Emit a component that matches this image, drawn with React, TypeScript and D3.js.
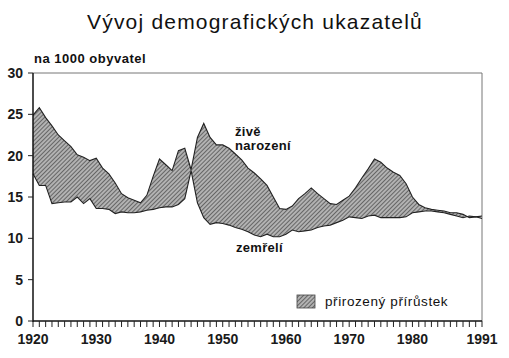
import { useEffect, useRef } from "react";
import * as d3 from "d3";

// rok, živě narození a zemřelí na 1000 obyvatel
const years: number[] = d3.range(1920, 1992);

const births: number[] = [
  24.9, 25.8, 24.6, 23.6, 22.5, 21.8, 21.1, 20.1, 19.8, 19.4,
  19.7, 18.5, 17.8, 16.7, 15.4, 14.9, 14.6, 14.3, 15.2, 17.5,
  19.6, 18.9, 18.2, 20.6, 20.9, 18.3, 22.2, 23.9, 22.2, 21.3,
  21.3, 20.9, 20.2, 19.5, 18.5, 17.9, 17.2, 16.4, 15.0, 13.6,
  13.5, 13.9, 14.8, 15.4, 16.1, 15.4, 14.8, 14.2, 14.1, 14.6,
  15.1, 16.1, 17.3, 18.4, 19.6, 19.2, 18.5, 18.0, 17.6, 16.6,
  15.0, 14.1, 13.7, 13.5, 13.4, 13.3, 13.1, 13.1, 12.9, 12.5,
  12.6, 12.7,
];

const deaths: number[] = [
  17.8, 16.4, 16.4, 14.2, 14.3, 14.4, 14.4, 15.0, 14.2, 14.8,
  13.6, 13.6, 13.5, 13.0, 13.2, 13.1, 13.1, 13.2, 13.4, 13.5,
  13.7, 13.8, 13.8, 14.1, 14.8, 18.2, 14.3, 12.5, 11.7, 11.9,
  11.8, 11.6, 11.3, 11.1, 10.8, 10.4, 10.2, 10.5, 10.2, 10.2,
  10.5, 11.0, 10.8, 10.9, 11.0, 11.3, 11.5, 11.6, 11.9, 12.2,
  12.6, 12.5, 12.4, 12.7, 12.8, 12.5, 12.5, 12.5, 12.5, 12.6,
  13.1, 13.2, 13.3, 13.3, 13.2, 13.1, 12.9, 12.7, 12.5, 12.7,
  12.6, 12.4,
];

const yTicks: number[] = [0, 5, 10, 15, 20, 25, 30];
const xLabels: number[] = [1920, 1930, 1940, 1950, 1960, 1970, 1980, 1991];

const title = "Vývoj demografických ukazatelů";
const unitLabel = "na 1000 obyvatel";
const birthLabel = ["živě", "narození"];
const deathLabel = "zemřelí";
const legendLabel = "přirozený přírůstek";

export default function App() {
  const ref = useRef<SVGSVGElement | null>(null);

  useEffect(() => {
    document.body.style.margin = "0";
    const svg = d3.select(ref.current);
    svg.selectAll("*").remove();

    const font = "'Liberation Sans', Arial, sans-serif";
    const left = 33, right = 482, top = 73, bottom = 321;

    const x = d3.scaleLinear().domain([1920, 1991]).range([left, right]);
    const y = d3.scaleLinear().domain([0, 30]).range([bottom, top]);

    const rows = years.map((yr, i) => ({ yr, b: births[i], d: deaths[i] }));

    // hatch pattern
    const defs = svg.append("defs");
    const pat = defs.append("pattern")
      .attr("id", "hatch")
      .attr("patternUnits", "userSpaceOnUse")
      .attr("width", 3)
      .attr("height", 3)
      .attr("patternTransform", "rotate(-45)");
    pat.append("rect").attr("width", 3).attr("height", 3).attr("fill", "#b2b2b2");
    pat.append("line")
      .attr("x1", 0).attr("y1", 0.5).attr("x2", 3).attr("y2", 0.5)
      .attr("stroke", "#666").attr("stroke-width", 1);

    // title
    svg.append("text")
      .attr("x", 255)
      .attr("y", 29)
      .attr("text-anchor", "middle")
      .style("font-family", font)
      .style("font-size", "21px")
      .style("letter-spacing", "1.2px")
      .style("fill", "#111")
      .text(title);

    svg.append("text")
      .attr("x", 34)
      .attr("y", 63)
      .style("font-family", font)
      .style("font-size", "13px")
      .style("font-weight", "bold")
      .style("letter-spacing", "0.5px")
      .style("fill", "#111")
      .text(unitLabel);

    // frame
    svg.append("path")
      .attr("d", `M${left},${top}H${right}V${bottom}`)
      .attr("fill", "none")
      .attr("stroke", "#777")
      .attr("stroke-width", 1);

    // area between curves
    const area = d3.area<{ yr: number; b: number; d: number }>()
      .x(d => x(d.yr))
      .y0(d => y(d.d))
      .y1(d => y(d.b));

    svg.append("path")
      .datum(rows)
      .attr("d", area)
      .attr("fill", "url(#hatch)")
      .attr("stroke", "none");

    const lineB = d3.line<{ yr: number; b: number; d: number }>()
      .x(d => x(d.yr)).y(d => y(d.b));
    const lineD = d3.line<{ yr: number; b: number; d: number }>()
      .x(d => x(d.yr)).y(d => y(d.d));

    svg.append("path").datum(rows).attr("d", lineB)
      .attr("fill", "none").attr("stroke", "#222").attr("stroke-width", 1.1);
    svg.append("path").datum(rows).attr("d", lineD)
      .attr("fill", "none").attr("stroke", "#222").attr("stroke-width", 1.1);

    // axes
    svg.append("line")
      .attr("x1", left).attr("x2", left).attr("y1", top).attr("y2", bottom + 1)
      .attr("stroke", "#111").attr("stroke-width", 1.5);
    svg.append("line")
      .attr("x1", left).attr("x2", right).attr("y1", bottom).attr("y2", bottom)
      .attr("stroke", "#111").attr("stroke-width", 1.5);

    svg.selectAll(".xt")
      .data(years)
      .enter()
      .append("line")
      .attr("x1", d => x(d)).attr("x2", d => x(d))
      .attr("y1", bottom).attr("y2", bottom + 6)
      .attr("stroke", "#222").attr("stroke-width", 1);

    svg.selectAll(".xl")
      .data(xLabels)
      .enter()
      .append("text")
      .attr("x", d => x(d))
      .attr("y", 344)
      .attr("text-anchor", "middle")
      .style("font-family", font)
      .style("font-size", "14px")
      .style("font-weight", "bold")
      .style("fill", "#1a1a1a")
      .text(d => d);

    svg.selectAll(".yt")
      .data(yTicks)
      .enter()
      .append("line")
      .attr("x1", left - 5).attr("x2", left)
      .attr("y1", d => y(d)).attr("y2", d => y(d))
      .attr("stroke", "#222").attr("stroke-width", 1);

    svg.selectAll(".yl")
      .data(yTicks)
      .enter()
      .append("text")
      .attr("x", 23)
      .attr("y", d => y(d) + 5)
      .attr("text-anchor", "end")
      .style("font-family", font)
      .style("font-size", "14px")
      .style("font-weight", "bold")
      .style("fill", "#1a1a1a")
      .text(d => d);

    // series labels
    const lbl = (t: string, xx: number, yy: number) =>
      svg.append("text")
        .attr("x", xx).attr("y", yy)
        .style("font-family", font)
        .style("font-size", "13px")
        .style("font-weight", "bold")
        .style("letter-spacing", "0.3px")
        .style("fill", "#111")
        .text(t);
    lbl(birthLabel[0], 235, 136);
    lbl(birthLabel[1], 235, 150);
    lbl(deathLabel, 236, 252);

    // legend
    svg.append("rect")
      .attr("x", 297).attr("y", 295)
      .attr("width", 18).attr("height", 13)
      .attr("fill", "url(#hatch)")
      .attr("stroke", "#444").attr("stroke-width", 0.8);
    svg.append("text")
      .attr("x", 325).attr("y", 306)
      .style("font-family", font)
      .style("font-size", "13.5px")
      .style("letter-spacing", "0.6px")
      .style("fill", "#111")
      .text(legendLabel);
  }, []);

  return <svg ref={ref} width={509} height={358} style={{ display: "block", background: "#fff" }} />;
}
